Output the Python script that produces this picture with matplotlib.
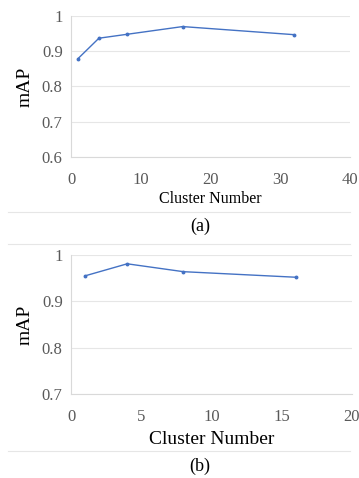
import matplotlib
matplotlib.use("Agg")
from matplotlib import pyplot as plt
from matplotlib.lines import Line2D

# (a) cluster number vs mAP
clusters_a = [1, 4, 8, 16, 32]
map_a = [0.879, 0.937, 0.948, 0.970, 0.947]

# (b) cluster number vs mAP
clusters_b = [1, 4, 8, 16]
map_b = [0.955, 0.981, 0.964, 0.952]

plt.rcParams["font.family"] = ["Liberation Serif", "DejaVu Serif"]

LINE = "#4472C4"
GRID = "#E6E6E6"
TICK = "#595959"

fig = plt.figure(figsize=(3.59, 4.78), dpi=100)

ax_a = fig.add_axes([71 / 359, 1 - 157 / 478, 279 / 359, 141 / 478])
ax_b = fig.add_axes([71 / 359, 1 - 394 / 478, 281 / 359, 139 / 478])


def style(ax, xlim, xticks, ylim, yticks, xlabel_size, xlabel_pad):
    ax.set_xlim(*xlim)
    ax.set_ylim(*ylim)
    ax.set_xticks(xticks)
    ax.set_yticks(yticks)
    ax.set_yticklabels([f"{t:g}" for t in yticks])
    ax.grid(axis="y", color=GRID, linewidth=0.8)
    ax.set_axisbelow(True)
    for side in ["top", "right"]:
        ax.spines[side].set_visible(False)
    for side in ["left", "bottom"]:
        ax.spines[side].set_color("#D9D9D9")
        ax.spines[side].set_linewidth(0.8)
    ax.tick_params(length=0, labelsize=12, colors=TICK)
    ax.tick_params(axis="y", pad=6)
    ax.tick_params(axis="x", pad=11)
    ax.set_ylabel("mAP", fontsize=14, labelpad=6)
    ax.set_xlabel("Cluster Number", fontsize=xlabel_size, labelpad=xlabel_pad)


ax_a.plot(clusters_a, map_a, color=LINE, linewidth=1, marker="o", markersize=1.8)
style(ax_a, (0, 40), [0, 10, 20, 30, 40], (0.6, 1.0), [0.6, 0.7, 0.8, 0.9, 1], 11.5, 2)

ax_b.plot(clusters_b, map_b, color=LINE, linewidth=1, marker="o", markersize=1.8)
style(ax_b, (0, 20), [0, 5, 10, 15, 20], (0.7, 1.0), [0.7, 0.8, 0.9, 1], 14, 4)

# separators and captions
for y in [212, 244, 451]:
    fig.add_artist(Line2D([8 / 359, 350 / 359], [1 - y / 478, 1 - y / 478],
                          color="#E6E6E6", linewidth=0.8))
fig.text(200 / 359, 1 - 226 / 478, "(a)", ha="center", va="center", fontsize=13)
fig.text(200 / 359, 1 - 466 / 478, "(b)", ha="center", va="center", fontsize=13)

plt.savefig("out.png", dpi=100)
